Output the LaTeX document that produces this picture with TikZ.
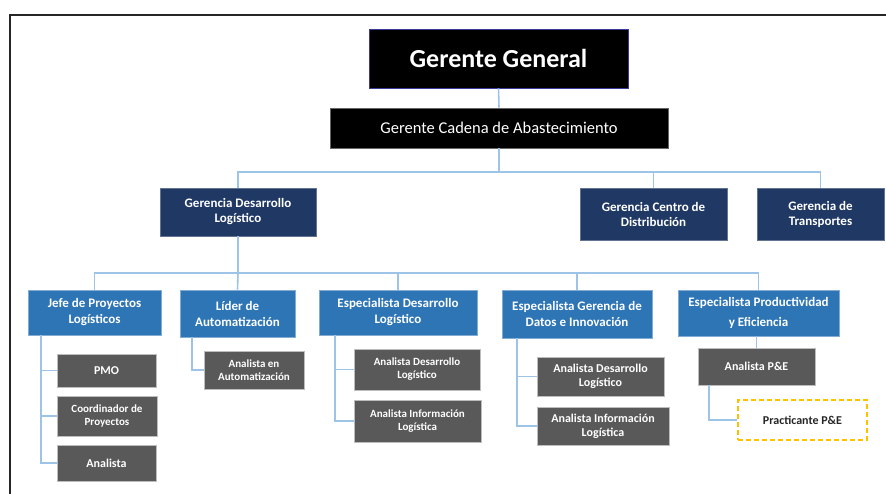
\documentclass[tikz,border=0pt]{standalone}
\usepackage{fontspec}
\setmainfont{Carlito}
\definecolor{navy}{HTML}{1F3864}
\definecolor{bluebox}{HTML}{2E75B6}
\definecolor{graybox}{HTML}{595959}
\definecolor{conn}{HTML}{9DC3E6}
\definecolor{gold}{HTML}{FFC000}
\definecolor{ggborder}{HTML}{3B3B9C}
\begin{document}
\begin{tikzpicture}[x=1pt,y=-1pt,
  box/.style={rectangle,inner sep=1pt,align=center,text=white,font=\bfseries,line width=0.8pt},
  blackbox/.style={box,fill=black,draw=ggborder},
  navybox/.style={box,fill=navy,draw=navy!70!white,font=\bfseries\fontsize{13}{15}\selectfont},
  bluebx/.style={box,fill=bluebox,draw=bluebox!60!white,font=\bfseries\fontsize{13}{16}\selectfont},
  graybx/.style={box,fill=graybox,draw=graybox!40!white,font=\bfseries\fontsize{12}{14}\selectfont},
  smallgray/.style={graybx,font=\bfseries\fontsize{11}{13}\selectfont},
  dashbox/.style={rectangle,align=center,fill=white,draw=gold,dashed,dash pattern=on 5pt off 3pt,line width=1.6pt,font=\bfseries\fontsize{12}{14}\selectfont,text=black!85},
  link/.style={draw=conn,line width=1.6pt}
]
\useasboundingbox (0,0) rectangle (886,494);
\fill[white] (0,0) rectangle (886,494);
% frame
\draw[line width=2.6pt,black!85] (10,500) -- (10,15) -- (895,15);

% top
\node[blackbox,minimum width=259pt,minimum height=59pt,font=\bfseries\fontsize{26}{30}\selectfont] (gg) at (498.5,58.5) {Gerente General};
\node[blackbox,draw=black!60,minimum width=338pt,minimum height=40pt,font=\fontsize{16.5}{19}\selectfont] (gca) at (499,128) {Gerente Cadena de Abastecimiento};

% gerencias
\node[navybox,minimum width=156pt,minimum height=48pt] (gdl) at (238,212) {Gerencia Desarrollo\\Logístico};
\node[navybox,minimum width=147pt,minimum height=52pt] (gcd) at (653.5,214) {Gerencia Centro de\\Distribución};
\node[navybox,minimum width=127pt,minimum height=52pt] (gt) at (820.5,214) {Gerencia de\\Transportes};

% second level
\node[bluebx,minimum width=133pt,minimum height=45pt] (jp) at (94.5,312.5) {Jefe de Proyectos\\Logísticos};
\node[bluebx,minimum width=115pt,minimum height=47pt] (la) at (237.5,313.5) {Líder de\\Automatización};
\node[bluebx,minimum width=158pt,minimum height=45pt] (ed) at (398,312.5) {Especialista Desarrollo\\Logístico};
\node[bluebx,minimum width=150pt,minimum height=48pt] (eg) at (577,314) {Especialista Gerencia de\\Datos e Innovación};
\node[bluebx,minimum width=161pt,minimum height=46pt,font=\bfseries\fontsize{13}{20}\selectfont] (ep) at (758.5,313) {Especialista Productividad\\y Eficiencia};

% gray children
\node[graybx,minimum width=99pt,minimum height=33pt] (pmo) at (106.5,370.5) {PMO};
\node[smallgray,minimum width=100pt,minimum height=40pt] (coo) at (107,416) {Coordinador de\\Proyectos};
\node[graybx,minimum width=99pt,minimum height=36pt] (an) at (106.5,463) {Analista};
\node[smallgray,minimum width=100pt,minimum height=38pt] (aa) at (254,370) {Analista en\\Automatización};
\node[smallgray,minimum width=126pt,minimum height=41pt] (ad1) at (417,369.5) {Analista Desarrollo\\Logístico};
\node[smallgray,minimum width=127pt,minimum height=42pt] (ai1) at (417.5,421) {Analista Información\\Logística};
\node[graybx,minimum width=127pt,minimum height=39pt] (ad2) at (600.5,376.5) {Analista Desarrollo\\Logístico};
\node[graybx,minimum width=132pt,minimum height=38pt] (ai2) at (603,426) {Analista Información\\Logística};
\node[graybx,minimum width=117pt,minimum height=37pt] (ape) at (756.5,366.5) {Analista P\&E};
\node[dashbox,minimum width=129pt,minimum height=40pt] (pp) at (802.5,420) {Practicante P\&E};

% connectors top
\coordinate (h1) at (499,172);
\draw[link] (gg.south) -- (gca.north);
\draw[link] (gca.south) -- (h1);
\draw[link] (gdl.north) |- (h1) -| (gt.north);
\draw[link] (h1) -| (gcd.north);

% connectors second
\coordinate (h2) at (238,273);
\draw[link] (gdl.south) -- (h2);
\draw[link] (jp.north) |- (h2) -| (ep.north);
\draw[link] (h2) -- (la.north);
\draw[link] (ed.north) |- (h2);
\draw[link] (eg.north) |- (h2);

% children connectors
\draw[link] (jp.south -| 41,0) |- (an.west);
\draw[link] (41,0 |- pmo.west) -- (pmo.west);
\draw[link] (41,0 |- coo.west) -- (coo.west);
\draw[link] (la.south -| 192,0) |- (aa.west);
\draw[link] (ed.south -| 335,0) |- (ai1.west);
\draw[link] (335,0 |- ad1.west) -- (ad1.west);
\draw[link] (eg.south -| 517,0) |- (ai2.west);
\draw[link] (517,0 |- ad2.west) -- (ad2.west);
\draw[link] (ep.south -| ape.north) -- (ape.north);
\draw[link] (ape.south -| 709,0) |- (pp.west);
\end{tikzpicture}
\end{document}
